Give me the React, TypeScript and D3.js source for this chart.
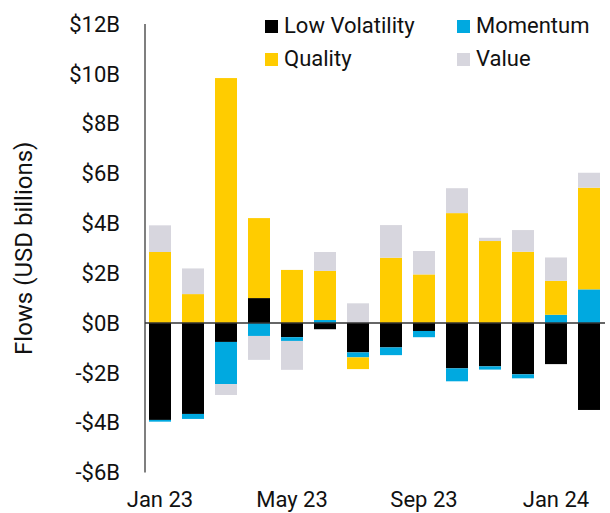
import * as React from "react";
import * as d3 from "d3";

// monthly factor ETF flows, USD billions
const months = ["Jan 23", "Feb 23", "Mar 23", "Apr 23", "May 23", "Jun 23", "Jul 23",
  "Aug 23", "Sep 23", "Oct 23", "Nov 23", "Dec 23", "Jan 24", "Feb 24"];
const lowVolatility = [-3.89, -3.65, -0.76, 1.0, -0.57, -0.25, -1.18, -0.98, -0.32, -1.82, -1.74, -2.06, -1.65, -3.49];
const momentum = [-0.07, -0.2, -1.69, -0.52, -0.15, 0.12, -0.2, -0.31, -0.25, -0.52, -0.13, -0.16, 0.33, 1.35];
const quality = [2.85, 1.16, 9.83, 3.21, 2.13, 1.97, -0.47, 2.62, 1.95, 4.41, 3.29, 2.86, 1.36, 4.08];
const value = [1.07, 1.03, -0.44, -0.96, -1.16, 0.76, 0.79, 1.31, 0.94, 1.0, 0.13, 0.87, 0.94, 0.6];

const seriesNames = ["Low Volatility", "Momentum", "Quality", "Value"];
const seriesColors = ["#000000", "#00a9e0", "#ffcc00", "#d7d6de"];
const yTicks = [-6, -4, -2, 0, 2, 4, 6, 8, 10, 12];
const xTickLabels = ["Jan 23", "May 23", "Sep 23", "Jan 24"];

const W = 610, H = 513;
const font = "Roboto, 'Liberation Sans', sans-serif";

export default function App() {
  const ref = React.useRef<SVGSVGElement>(null);

  React.useEffect(() => {
    const svg = d3.select(ref.current);
    svg.selectAll("*").remove();

    const rows = months.map((m, i) => ({
      month: m,
      "Low Volatility": lowVolatility[i],
      "Momentum": momentum[i],
      "Quality": quality[i],
      "Value": value[i],
    }));

    const x = d3.scaleBand().domain(months).range([149, 600]).paddingInner(1 / 3).paddingOuter(0);
    const y = d3.scaleLinear().domain([-6, 12]).range([472.5, 24]);
    const color = d3.scaleOrdinal<string>().domain(seriesNames).range(seriesColors);

    const stacked = d3.stack<any>().keys(seriesNames).offset(d3.stackOffsetDiverging)(rows);

    svg.append("g")
      .selectAll("g")
      .data(stacked)
      .join("g")
      .attr("fill", d => color(d.key))
      .selectAll("rect")
      .data(d => d)
      .join("rect")
      .attr("x", d => x(d.data.month)!)
      .attr("width", x.bandwidth())
      .attr("y", d => y(Math.max(d[0], d[1])))
      .attr("height", d => Math.abs(y(d[0]) - y(d[1])));

    // y axis line
    svg.append("line")
      .attr("x1", 145).attr("x2", 145)
      .attr("y1", y(12)).attr("y2", y(-6))
      .attr("stroke", "#555").attr("stroke-width", 1.5);

    // zero line
    svg.append("line")
      .attr("x1", 145).attr("x2", 605)
      .attr("y1", y(0)).attr("y2", y(0))
      .attr("stroke", "#333").attr("stroke-width", 1.5);

    svg.append("g")
      .selectAll("text")
      .data(yTicks)
      .join("text")
      .attr("x", 120)
      .attr("y", d => y(d))
      .attr("dy", "0.35em")
      .attr("text-anchor", "end")
      .attr("font-family", font)
      .attr("font-size", 22)
      .attr("fill", "#111")
      .text(d => (d < 0 ? "-$" + Math.abs(d) : "$" + d) + "B");

    svg.append("g")
      .selectAll("text")
      .data(xTickLabels)
      .join("text")
      .attr("x", d => x(d)! + x.bandwidth() / 2)
      .attr("y", 507)
      .attr("text-anchor", "middle")
      .attr("font-family", font)
      .attr("font-size", 22)
      .attr("fill", "#111")
      .text(d => d);

    svg.append("text")
      .attr("transform", "translate(32," + y(3) + ") rotate(-90)")
      .attr("text-anchor", "middle")
      .attr("font-family", font)
      .attr("font-size", 24)
      .attr("fill", "#111")
      .text("Flows (USD billions)");

    // legend
    const legendPos = [[265, 20], [457, 20], [265, 53], [457, 53]];
    const lg = svg.append("g")
      .selectAll("g")
      .data(seriesNames)
      .join("g")
      .attr("transform", (d, i) => "translate(" + legendPos[i][0] + "," + legendPos[i][1] + ")");
    lg.append("rect")
      .attr("width", 13).attr("height", 13)
      .attr("fill", d => color(d));
    lg.append("text")
      .attr("x", 19).attr("y", 13)
      .attr("font-family", font)
      .attr("font-size", 22)
      .attr("fill", "#111")
      .text(d => d);
  }, []);

  return <svg ref={ref} width={W} height={H} style={{ position: "absolute", left: 0, top: 0, background: "#fff" }} />;
}
